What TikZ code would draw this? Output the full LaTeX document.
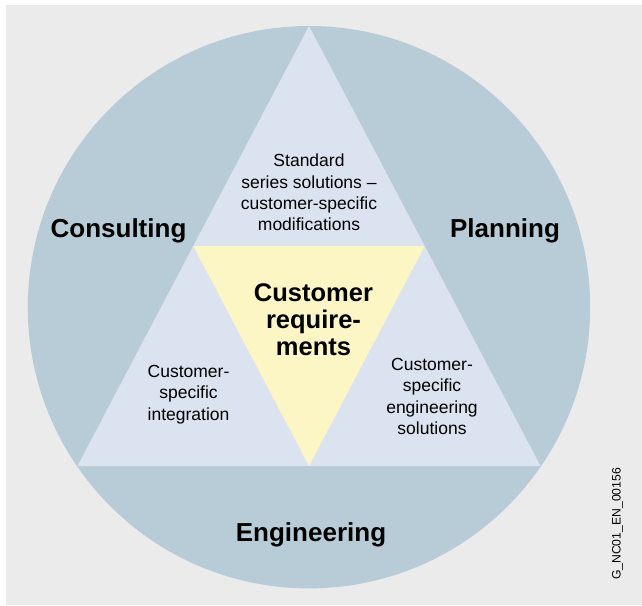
\documentclass[tikz,border=0pt]{standalone}
\usepackage{fontspec}
\setmainfont{Liberation Sans}
\usepackage{xcolor}
\usetikzlibrary{positioning,calc}
\definecolor{sfondo}{RGB}{235,235,235}
\definecolor{cerchio}{RGB}{184,204,215}
\definecolor{triangolo}{RGB}{219,227,240}
\definecolor{centro}{RGB}{252,245,196}
\tikzset{
  settore/.style={font=\bfseries\fontsize{26}{26}\selectfont,inner sep=0pt},
  nucleo/.style={align=center,font=\bfseries\fontsize{25.5}{27}\selectfont,inner sep=0pt},
  testo/.style={align=center,font=\fontsize{17.5}{21.3}\selectfont,inner sep=0pt},
  sigla/.style={rotate=90,font=\fontsize{12.2}{14}\selectfont,inner sep=0pt}
}

\begin{document}
\begin{tikzpicture}[x=1pt,y=-1pt]
\useasboundingbox (0,0) rectangle (642,605);
\fill[sfondo] (6,5) rectangle (642,605);
% cerchio esterno e triangoli
\fill[cerchio] (309,307.2) circle (281.2pt);
\coordinate (vA) at (309,26);
\coordinate (vB) at (77.5,466);
\coordinate (vC) at (540.5,466);
\coordinate (mAB) at ($(vA)!0.5!(vB)$);
\coordinate (mAC) at ($(vA)!0.5!(vC)$);
\coordinate (mBC) at ($(vB)!0.5!(vC)$);
\fill[triangolo] (vA) -- (vB) -- (vC) -- cycle;
\fill[centro] (mAB) -- (mAC) -- (mBC) -- cycle;
% testi
\node[settore,anchor=base] (consulting) at (118.5,237) {Consulting};
\node[settore,anchor=base] (planning) at (505,237) {Planning};
\node[settore,anchor=base] (engineering) at (311,541) {Engineering};
\node[nucleo] (requisiti) at (313.5,320) {Customer\\require-\\ments};
\node[testo] (standard) at (309,192.5) {Standard\\series solutions –\\customer-specific\\modifications};
\node[testo] (integrazione) at (188.5,394.5) {Customer-\\specific\\integration};
\node[testo] (soluzioni) at (432,396.5) {Customer-\\specific\\engineering\\solutions};
\node[sigla] (codice) at (617.5,524) {G\_NC01\_EN\_00156};
\end{tikzpicture}
\end{document}
